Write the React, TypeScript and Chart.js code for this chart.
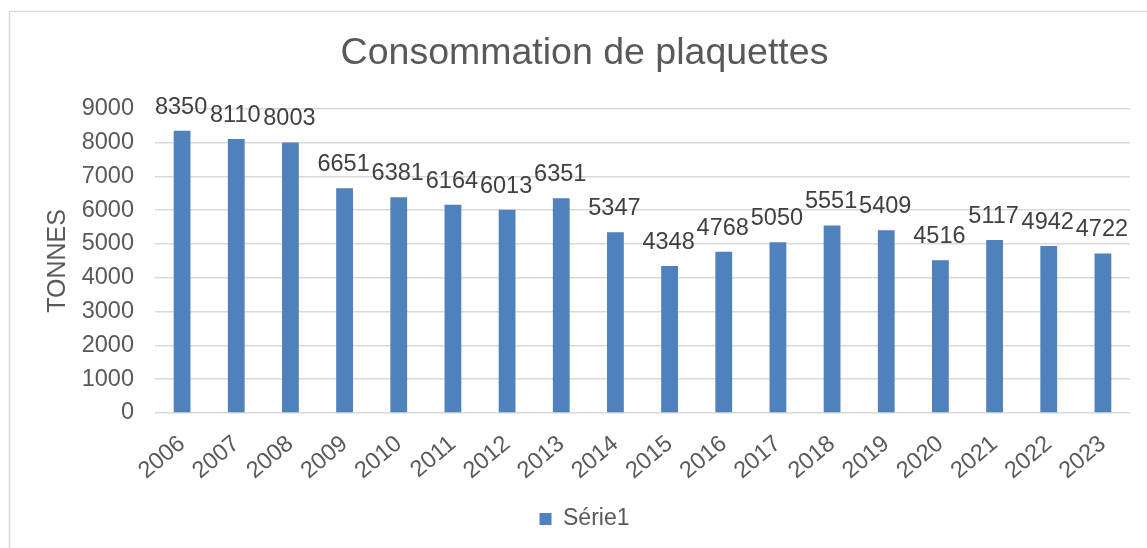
import React, { useEffect, useRef } from "react";
import { Chart, registerables } from "chart.js";

Chart.register(...registerables);

const FONT = "'Liberation Sans', Arial, Helvetica, sans-serif";

const chartTitle = "Consommation de plaquettes";
const axisTitle = "TONNES";
const seriesName = "Série1";
const years = [
  "2006", "2007", "2008", "2009", "2010", "2011", "2012", "2013", "2014",
  "2015", "2016", "2017", "2018", "2019", "2020", "2021", "2022", "2023",
];
const tonnes = [
  8350, 8110, 8003, 6651, 6381, 6164, 6013, 6351, 5347,
  4348, 4768, 5050, 5551, 5409, 4516, 5117, 4942, 4722,
];
const yMin = 0;
const yMax = 9000;
const yStep = 1000;

const framePlugin = {
  id: "frame",
  beforeDraw(chart: any) {
    const ctx = chart.ctx;
    ctx.save();
    ctx.fillStyle = "#ffffff";
    ctx.fillRect(0, 0, chart.width, chart.height);
    ctx.strokeStyle = "#d9d9d9";
    ctx.lineWidth = 1.5;
    ctx.strokeRect(9.5, 11.5, 1150, 544);
    ctx.restore();
  },
};

const barLabelPlugin = {
  id: "barLabels",
  afterDatasetsDraw(chart: any) {
    const ctx = chart.ctx;
    const meta = chart.getDatasetMeta(0);
    const data = chart.data.datasets[0].data as number[];
    ctx.save();
    ctx.font = `23.5px ${FONT}`;
    ctx.fillStyle = "#404040";
    ctx.textAlign = "center";
    ctx.textBaseline = "alphabetic";
    meta.data.forEach((bar: any, i: number) => {
      ctx.fillText(String(data[i]), bar.x - 1, bar.y - 17);
    });
    ctx.restore();
  },
};

export default function App() {
  const canvasRef = useRef<HTMLCanvasElement | null>(null);

  useEffect(() => {
    if (!canvasRef.current) return;
    const chart = new Chart(canvasRef.current, {
      type: "bar",
      data: {
        labels: years,
        datasets: [
          {
            label: seriesName,
            data: tonnes,
            backgroundColor: "#4f81bd",
            borderWidth: 0,
            barPercentage: 0.31,
            categoryPercentage: 1,
          },
        ],
      },
      options: {
        responsive: false,
        animation: false,
        devicePixelRatio: 1,
        layout: { padding: { left: 39, right: 40, top: 12, bottom: 19.5 } },
        plugins: {
          title: {
            display: true,
            text: chartTitle,
            color: "#595959",
            font: { family: FONT, size: 37.5, weight: "normal" },
            padding: { top: 19, bottom: 32.8 },
          },
          legend: {
            display: true,
            position: "bottom",
            labels: {
              color: "#595959",
              font: { family: FONT, size: 23 },
              boxWidth: 12,
              boxHeight: 12,
              padding: 10,
            },
          },
          tooltip: { enabled: false },
        },
        scales: {
          x: {
            grid: { display: false, drawTicks: false },
            border: { display: false },
            ticks: {
              color: "#595959",
              font: { family: FONT, size: 23.5 },
              minRotation: 40,
              maxRotation: 40,
              autoSkip: false,
              padding: 17,
            },
            afterFit: (scale: any) => {
              scale.height = 84.5;
              scale.paddingLeft = 0;
              scale.paddingRight = 0;
            },
          },
          y: {
            min: yMin,
            max: yMax,
            grid: { color: "#d9d9d9", lineWidth: 1.5, drawTicks: false },
            border: { display: false },
            ticks: {
              stepSize: yStep,
              color: "#595959",
              font: { family: FONT, size: 23.5 },
              padding: 21,
              callback: (value: any) => String(value),
            },
            title: {
              display: true,
              text: axisTitle,
              color: "#595959",
              font: { family: FONT, size: 25 },
              padding: { top: 4, bottom: 0 },
            },
            afterFit: (scale: any) => {
              scale.width = 116;
            },
          },
        },
      },
      plugins: [framePlugin, barLabelPlugin],
    });
    return () => chart.destroy();
  }, []);

  return (
    <div
      style={{
        position: "fixed",
        left: 0,
        top: 0,
        width: 1147,
        height: 548,
        overflow: "hidden",
        background: "#ffffff",
      }}
    >
      <canvas ref={canvasRef} width={1170} height={560} style={{ display: "block" }} />
    </div>
  );
}
